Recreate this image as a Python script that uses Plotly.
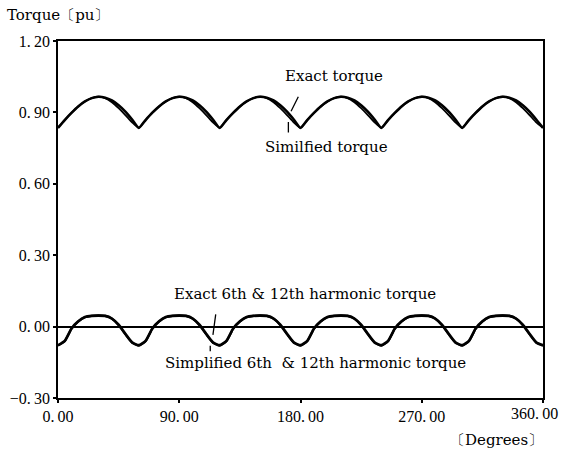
import plotly.graph_objects as go

# Angle samples (degrees)
degrees = list(range(0, 365, 5))

# Upper curves: torque (pu)
exact_torque = [
    0.835, 0.868, 0.898, 0.925, 0.946, 0.960, 0.966, 0.962, 0.950, 0.930, 0.903, 0.870,
    0.835, 0.868, 0.899, 0.925, 0.946, 0.960, 0.966, 0.962, 0.950, 0.930, 0.903, 0.870,
    0.835, 0.868, 0.898, 0.925, 0.946, 0.960, 0.966, 0.962, 0.950, 0.930, 0.903, 0.870,
    0.835, 0.868, 0.898, 0.925, 0.946, 0.960, 0.966, 0.962, 0.950, 0.930, 0.903, 0.870,
    0.835, 0.868, 0.898, 0.925, 0.946, 0.960, 0.966, 0.962, 0.950, 0.930, 0.903, 0.870,
    0.835, 0.868, 0.898, 0.925, 0.946, 0.960, 0.966, 0.962, 0.950, 0.930, 0.903, 0.870,
    0.835,
]
simplified_torque = [
    0.835, 0.868, 0.898, 0.925, 0.946, 0.960, 0.966, 0.960, 0.943, 0.918, 0.889, 0.858,
    0.835, 0.868, 0.898, 0.925, 0.946, 0.960, 0.966, 0.960, 0.943, 0.918, 0.889, 0.858,
    0.835, 0.868, 0.898, 0.925, 0.946, 0.960, 0.966, 0.960, 0.943, 0.918, 0.889, 0.858,
    0.835, 0.868, 0.898, 0.925, 0.946, 0.960, 0.966, 0.960, 0.943, 0.918, 0.889, 0.858,
    0.835, 0.868, 0.898, 0.925, 0.946, 0.960, 0.966, 0.960, 0.943, 0.918, 0.889, 0.858,
    0.835, 0.868, 0.898, 0.925, 0.946, 0.960, 0.966, 0.960, 0.943, 0.918, 0.889, 0.858,
    0.835,
]

# Lower curves: 6th & 12th harmonic torque (pu)
exact_harmonic = [
    -0.078, -0.060, -0.008, 0.022, 0.040, 0.045, 0.046, 0.045, 0.034, 0.008, -0.030, -0.066,
    -0.078, -0.060, -0.008, 0.022, 0.040, 0.045, 0.046, 0.045, 0.034, 0.008, -0.030, -0.066,
    -0.078, -0.060, -0.008, 0.022, 0.040, 0.045, 0.046, 0.045, 0.034, 0.008, -0.030, -0.066,
    -0.078, -0.060, -0.008, 0.022, 0.040, 0.045, 0.046, 0.045, 0.034, 0.008, -0.030, -0.066,
    -0.078, -0.060, -0.008, 0.022, 0.040, 0.045, 0.046, 0.045, 0.034, 0.008, -0.030, -0.066,
    -0.078, -0.060, -0.008, 0.022, 0.040, 0.045, 0.046, 0.045, 0.034, 0.008, -0.030, -0.066,
    -0.078,
]
simplified_harmonic = [
    -0.080, -0.062, -0.010, 0.021, 0.039, 0.045, 0.047, 0.045, 0.033, 0.006, -0.033, -0.068,
    -0.080, -0.062, -0.010, 0.021, 0.039, 0.045, 0.047, 0.045, 0.033, 0.006, -0.033, -0.068,
    -0.080, -0.062, -0.010, 0.021, 0.039, 0.045, 0.047, 0.045, 0.033, 0.006, -0.033, -0.068,
    -0.080, -0.062, -0.010, 0.021, 0.039, 0.045, 0.047, 0.045, 0.033, 0.006, -0.033, -0.068,
    -0.080, -0.062, -0.010, 0.021, 0.039, 0.045, 0.047, 0.045, 0.033, 0.006, -0.033, -0.068,
    -0.080, -0.062, -0.010, 0.021, 0.039, 0.045, 0.047, 0.045, 0.033, 0.006, -0.033, -0.068,
    -0.080,
]

# Tick labels (the 360 label is placed as a right-aligned text so it stays inside the page)
x_tick_vals = [0, 90, 180, 270, 360]
x_tick_text = ["0.\u200900", "90.\u200900", "180.\u200900", "270.\u200900", ""]
x_last_label = "360.\u200900"
y_tick_vals = [-0.30, 0.0, 0.30, 0.60, 0.90, 1.20]
y_tick_text = ["−0.\u200930", "0.\u200900", "0.\u200930", "0.\u200960", "0.\u200990", "1.\u200920"]

SERIF = "DejaVu Serif, Liberation Serif, serif"
TICKSERIF = "Liberation Serif, DejaVu Serif, serif"
FS = 15
TFS = 16

fig = go.Figure()
for name, ys, w in [
    ("Simplified torque", simplified_torque, 1.8),
    ("Exact torque", exact_torque, 2.6),
    ("Simplified 6th & 12th harmonic torque", simplified_harmonic, 2.2),
    ("Exact 6th & 12th harmonic torque", exact_harmonic, 2.6),
]:
    fig.add_trace(go.Scatter(
        x=degrees, y=ys, mode="lines", name=name,
        line=dict(color="black", width=w, shape="spline", smoothing=0.5),
        showlegend=False, hoverinfo="skip",
    ))

fig.update_layout(
    width=565, height=455,
    margin=dict(l=58, r=22, t=41, b=57, autoexpand=False),
    paper_bgcolor="white", plot_bgcolor="white",
    font=dict(family=SERIF, size=FS, color="black"),
    xaxis=dict(
        range=[0, 360], tickvals=x_tick_vals, ticktext=x_tick_text,
        automargin=False, ticklabeloverflow="allow",
        showgrid=False, zeroline=False, showline=True, linecolor="black",
        linewidth=1.5, mirror=True, ticks="outside", ticklen=3, tickwidth=1.5,
        tickcolor="black", tickfont=dict(family=TICKSERIF, size=TFS),
    ),
    yaxis=dict(
        range=[-0.30, 1.20], tickvals=y_tick_vals, ticktext=y_tick_text,
        automargin=False, ticklabeloverflow="allow",
        showgrid=False, zeroline=True, zerolinecolor="black", zerolinewidth=1.5,
        showline=True, linecolor="black", linewidth=1.5, mirror=True,
        ticks="outside", ticklen=3, tickwidth=1.5, tickcolor="black",
        tickfont=dict(family=TICKSERIF, size=TFS),
    ),
)

def label(text, x, y, xanchor="center"):
    fig.add_annotation(text=text, x=x, y=y, xref="x", yref="y", showarrow=False,
                       xanchor=xanchor, yanchor="middle",
                       font=dict(family=SERIF, size=FS, color="black"))

label("Exact torque", 205, 1.055)
label("Similfied torque", 199, 0.755)
label("Exact 6th & 12th harmonic torque", 183, 0.135)
label("Simplified 6th  & 12th harmonic torque", 191, -0.155)

# Leader lines
def leader(x, y, ax, ay):
    fig.add_annotation(x=x, y=y, xref="x", yref="y", ax=ax, ay=ay, axref="pixel",
                       ayref="pixel", text="", showarrow=True, arrowhead=0,
                       arrowwidth=1.3, arrowcolor="black")

leader(173, 0.905, 8, -16)
leader(171, 0.860, 0, 12)
leader(115, -0.035, 3, -22)
leader(113, -0.080, 0, 7)

# Last x tick label, right aligned near the page edge
fig.add_annotation(text=x_last_label, xref="paper", yref="paper", x=1.035, y=-0.013,
                   xanchor="right", yanchor="top", showarrow=False,
                   font=dict(family=TICKSERIF, size=TFS, color="black"))

# Axis titles as free text
fig.add_annotation(text="Torque〔pu〕", xref="paper", yref="paper", x=-0.109, y=1.073,
                   xanchor="left", yanchor="middle", showarrow=False,
                   font=dict(family=SERIF, size=FS, color="black"))
fig.add_annotation(text="〔Degrees〕", xref="paper", yref="paper", x=1.004, y=-0.118,
                   xanchor="right", yanchor="middle", showarrow=False,
                   font=dict(family=SERIF, size=FS, color="black"))

fig.write_html("out.html", config={"displayModeBar": False},
               post_script="document.body.style.margin='0px';document.body.style.overflow='hidden';")
